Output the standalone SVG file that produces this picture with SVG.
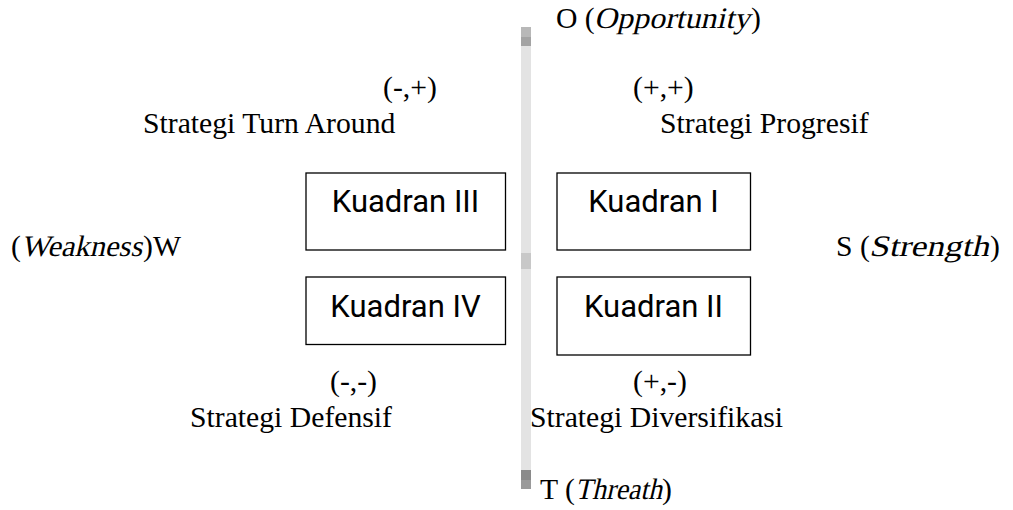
<svg xmlns="http://www.w3.org/2000/svg" width="1013" height="510" viewBox="0 0 1013 510">
<style>
.t{font-family:"Liberation Serif","DejaVu Serif",serif;font-size:29.7px;fill:#000}
.box{fill:#fff;stroke:#000;stroke-width:1.3}
.k{font-family:Roboto,"Noto Sans",sans-serif;font-size:31px;fill:#000;text-anchor:middle}
</style>
<rect width="1013" height="510" fill="#fff"/>
<g id="axis">
<rect x="521" y="27" width="10" height="462" fill="#e3e3e3"/>
<rect x="521" y="27" width="10" height="10" fill="#b8b8b8"/>
<rect x="521" y="37" width="10" height="9" fill="#a3a3a3"/>
<rect x="521" y="253" width="10" height="16" fill="#c8c8c8"/>
<rect x="521" y="470" width="10" height="10" fill="#8a8a8a"/>
<rect x="521" y="480" width="10" height="9" fill="#9a9a9a"/>
</g>
<g id="label-O">
<text class="t" x="556" y="28">O (</text>
<text class="t" transform="translate(594,28) skewX(-13)" textLength="156" lengthAdjust="spacingAndGlyphs">Opportunity</text>
<text class="t" x="751" y="28">)</text>
</g>
<g id="label-W">
<text class="t" x="11" y="256">(</text>
<text class="t" transform="translate(21,256) skewX(-13)" textLength="121" lengthAdjust="spacingAndGlyphs">Weakness</text>
<text class="t" x="143" y="256">)W</text>
</g>
<g id="label-S">
<text class="t" x="836" y="256">S (</text>
<text class="t" transform="translate(869,256) skewX(-13)" textLength="120" lengthAdjust="spacingAndGlyphs">Strength</text>
<text class="t" x="990" y="256">)</text>
</g>
<g id="label-T">
<text class="t" x="540" y="499">T (</text>
<text class="t" transform="translate(575,499) skewX(-13)" textLength="87" lengthAdjust="spacingAndGlyphs">Threath</text>
<text class="t" x="662" y="499">)</text>
</g>
<g id="labels">
<text class="t" x="383" y="97">(-,+)</text>
<text class="t" x="143" y="133">Strategi Turn Around</text>
<text class="t" x="633" y="97">(+,+)</text>
<text class="t" x="660" y="133">Strategi Progresif</text>
<text class="t" x="330" y="391">(-,-)</text>
<text class="t" x="190" y="427">Strategi Defensif</text>
<text class="t" x="633" y="391">(+,-)</text>
<text class="t" x="530" y="427">Strategi Diversifikasi</text>
</g>
<g id="kuadran3">
<rect class="box" x="306" y="173" width="199.5" height="77"/>
<text class="k" x="405.5" y="212">Kuadran III</text>
</g>
<g id="kuadran1">
<rect class="box" x="557" y="173" width="193.5" height="77"/>
<text class="k" x="653.5" y="212">Kuadran I</text>
</g>
<g id="kuadran4">
<rect class="box" x="306" y="277" width="199.5" height="67.5"/>
<text class="k" x="405.5" y="317">Kuadran IV</text>
</g>
<g id="kuadran2">
<rect class="box" x="557" y="277" width="193.5" height="78"/>
<text class="k" x="653.5" y="317">Kuadran II</text>
</g>
</svg>
